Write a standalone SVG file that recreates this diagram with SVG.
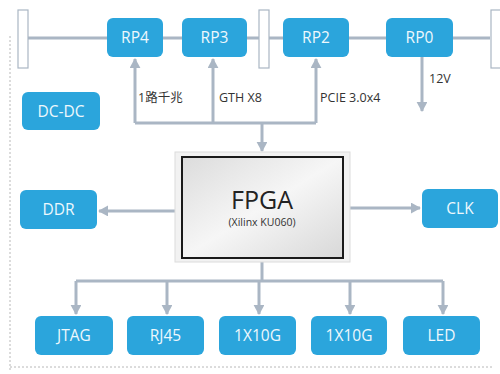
<svg xmlns="http://www.w3.org/2000/svg" width="500" height="374" viewBox="0 0 500 374">
<style>
.box{fill:#2ba5dc;}
.bt{fill:#eef8fd;font-family:"Open Sans","Noto Sans",sans-serif;font-size:15.5px;text-anchor:middle;}
.ln{stroke:#aab6c4;stroke-width:3;fill:none;}
.lbl{fill:#333;font-family:"Open Sans","Noto Sans","Noto Sans CJK SC",sans-serif;font-size:12.5px;}
.brk{fill:#fff;stroke:#aab6c4;stroke-width:1.2;}
.dash{stroke:#b8b8b8;stroke-width:1;stroke-dasharray:2 2;fill:none;}
</style>
<defs>
<marker id="ah" markerWidth="4" markerHeight="4" refX="3" refY="1.8" orient="auto" markerUnits="strokeWidth"><path d="M0,0 L3.3,1.8 L0,3.6 Z" fill="#aab6c4"/></marker>
<linearGradient id="fg" x1="0" y1="0" x2="1" y2="1"><stop offset="0" stop-color="#dcdcdc"/><stop offset="0.5" stop-color="#f6f6f6"/><stop offset="1" stop-color="#d8d8d8"/></linearGradient>
</defs>
<rect width="500" height="374" fill="#fff"/>
<g id="frame">
<path class="dash" d="M10,36 V370"/>
<path class="dash" d="M10,367 H492"/>
</g>
<g id="connectors">
<path class="ln" d="M28,38 H490"/>
<path class="ln" d="M135,123 H316" />
<path class="ln" d="M135,123 V59" marker-end="url(#ah)"/>
<path class="ln" d="M213,123 V59" marker-end="url(#ah)"/>
<path class="ln" d="M316,123 V59" marker-end="url(#ah)"/>
<path class="ln" d="M262,123 V151" marker-end="url(#ah)"/>
<path class="ln" d="M422,57 V111" marker-end="url(#ah)"/>
<path class="ln" d="M175,211 H99" marker-end="url(#ah)"/>
<path class="ln" d="M350,208 H420" marker-end="url(#ah)"/>
<path class="ln" d="M262,262 V281"/>
<path class="ln" d="M76,281 H443"/>
<path class="ln" d="M76,281 V314" marker-end="url(#ah)"/>
<path class="ln" d="M167,281 V314" marker-end="url(#ah)"/>
<path class="ln" d="M259,281 V314" marker-end="url(#ah)"/>
<path class="ln" d="M350,281 V314" marker-end="url(#ah)"/>
<path class="ln" d="M443,281 V314" marker-end="url(#ah)"/>
</g>
<g id="brackets">
<rect class="brk" x="18" y="10" width="10" height="58"/>
<rect class="brk" x="259" y="10" width="10" height="58"/>
<rect class="brk" x="491" y="10" width="10" height="58"/>
</g>
<g id="labels">
<text class="lbl" x="138" y="102">1路千兆</text>
<text class="lbl" x="219" y="102">GTH X8</text>
<text class="lbl" x="320" y="102">PCIE 3.0x4</text>
<text class="lbl" x="429" y="83">12V</text>
</g>
<g id="RP4"><rect class="box" x="107" y="18" width="56" height="39" rx="6"/><text class="bt" x="135" y="43">RP4</text></g>
<g id="RP3"><rect class="box" x="182" y="18" width="65" height="39" rx="6"/><text class="bt" x="214.5" y="43">RP3</text></g>
<g id="RP2"><rect class="box" x="283" y="18" width="66" height="39" rx="6"/><text class="bt" x="316" y="43">RP2</text></g>
<g id="RP0"><rect class="box" x="386" y="18" width="67" height="39" rx="6"/><text class="bt" x="419.5" y="43">RP0</text></g>
<g id="DC-DC"><rect class="box" x="22" y="92" width="78" height="38" rx="6"/><text class="bt" x="61" y="116.5">DC-DC</text></g>
<g id="DDR"><rect class="box" x="20" y="190" width="77" height="39" rx="6"/><text class="bt" x="58.5" y="215">DDR</text></g>
<g id="CLK"><rect class="box" x="422" y="189" width="76" height="39" rx="6"/><text class="bt" x="460" y="214">CLK</text></g>
<g id="FPGA">
<rect x="175" y="152" width="175" height="110" fill="#f2f2f2" stroke="#dcdcdc" stroke-width="1"/>
<rect x="182" y="157" width="161" height="101" fill="url(#fg)" stroke="#1a1a1a" stroke-width="2"/>
<text x="262" y="209" text-anchor="middle" font-family="'Open Sans','Noto Sans',sans-serif" font-size="25" fill="#222">FPGA</text>
<text x="262" y="226" text-anchor="middle" font-family="'Open Sans','Noto Sans',sans-serif" font-size="10.5" fill="#333">(Xilinx KU060)</text>
</g>
<g id="JTAG"><rect class="box" x="35" y="316" width="78" height="39" rx="6"/><text class="bt" x="74" y="341">JTAG</text></g>
<g id="RJ45"><rect class="box" x="127" y="316" width="77" height="39" rx="6"/><text class="bt" x="165.5" y="341">RJ45</text></g>
<g id="X10G-1"><rect class="box" x="219" y="316" width="77" height="39" rx="6"/><text class="bt" x="257.5" y="341">1X10G</text></g>
<g id="X10G-2"><rect class="box" x="311" y="316" width="76" height="39" rx="6"/><text class="bt" x="349" y="341">1X10G</text></g>
<g id="LED"><rect class="box" x="403" y="316" width="77" height="39" rx="6"/><text class="bt" x="441.5" y="341">LED</text></g>
</svg>
